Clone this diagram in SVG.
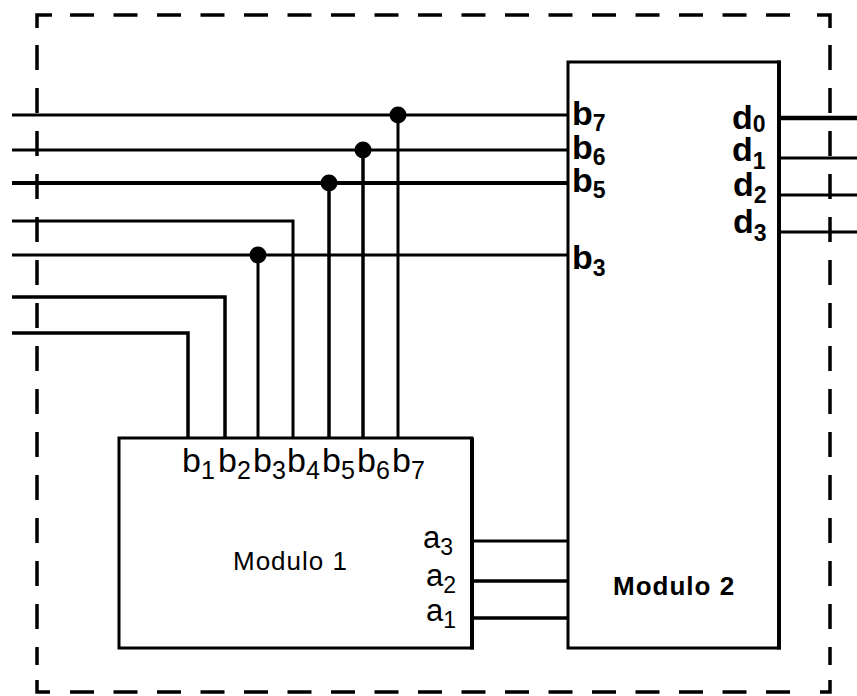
<svg xmlns="http://www.w3.org/2000/svg" width="857" height="696" viewBox="0 0 857 696">
<style>
.w{fill:none;stroke:#000;stroke-width:3;stroke-linecap:butt;stroke-linejoin:miter}
.box{fill:#fff;stroke:#000;stroke-width:3}
.dash{fill:none;stroke:#000;stroke-width:3.5}
.dot{fill:#000}
.r{font-family:"Liberation Sans",Arial,sans-serif;fill:#000}
.b{font-family:"Liberation Sans",Arial,sans-serif;font-weight:bold;fill:#000}
</style>
<rect width="857" height="696" fill="#fff"/>
<g id="border">
<path class="dash" d="M37,28 V15 H52"/>
<path class="dash" d="M817,15 H830 V28"/>
<path class="dash" d="M830,680 V692 H820"/>
<path class="dash" d="M50,692 H37 V680"/>
<line class="dash" x1="70" y1="15" x2="800" y2="15" stroke-dasharray="24 19.5"/>
<line class="dash" x1="70" y1="692" x2="805" y2="692" stroke-dasharray="24 19.5"/>
<line class="dash" x1="37" y1="45" x2="37" y2="665" stroke-dasharray="25 18"/>
<line class="dash" x1="830" y1="45" x2="830" y2="665" stroke-dasharray="25 18"/>
</g>
<g id="connectors">
<line class="w" x1="12" y1="115" x2="568" y2="115"/>
<line class="w" x1="12" y1="150" x2="568" y2="150"/>
<line class="w" x1="12" y1="183" x2="568" y2="183" style="stroke-width:4"/>
<polyline class="w" points="12,221 293,221 293,437"/>
<line class="w" x1="12" y1="255" x2="568" y2="255"/>
<polyline class="w" points="12,297 225,297 225,437" style="stroke-width:3.5"/>
<polyline class="w" points="12,333 188,333 188,437" style="stroke-width:3.5"/>
<line class="w" x1="258" y1="255" x2="258" y2="437"/>
<line class="w" x1="329" y1="183" x2="329" y2="437" style="stroke-width:3.5"/>
<line class="w" x1="363" y1="150" x2="363" y2="437" style="stroke-width:3.5"/>
<line class="w" x1="398" y1="115" x2="398" y2="437"/>
<circle class="dot" cx="398" cy="115" r="8.5"/>
<circle class="dot" cx="363" cy="150" r="8.5"/>
<circle class="dot" cx="329" cy="183" r="8.5"/>
<circle class="dot" cx="258" cy="255" r="8.5"/>
<line class="w" x1="472" y1="541" x2="568" y2="541"/>
<line class="w" x1="472" y1="581" x2="568" y2="581" style="stroke-width:3.5"/>
<line class="w" x1="472" y1="618" x2="568" y2="618" style="stroke-width:3.5"/>
<line class="w" x1="779" y1="118" x2="857" y2="118" style="stroke-width:4.5"/>
<line class="w" x1="779" y1="158" x2="857" y2="158"/>
<line class="w" x1="779" y1="195" x2="857" y2="195"/>
<line class="w" x1="779" y1="232" x2="857" y2="232"/>
</g>
<g id="modulo1">
<rect class="box" x="119" y="438" width="353" height="210"/>
<line class="w" x1="472" y1="438" x2="472" y2="649.5" style="stroke-width:4"/>
<text class="r" x="182" y="472" font-size="34">b<tspan dy="7" font-size="25">1</tspan></text>
<text class="r" x="218" y="472" font-size="34">b<tspan dy="7" font-size="25">2</tspan></text>
<text class="r" x="253" y="472" font-size="34">b<tspan dy="7" font-size="25">3</tspan></text>
<text class="r" x="287" y="472" font-size="34">b<tspan dy="7" font-size="25">4</tspan></text>
<text class="r" x="322" y="472" font-size="34">b<tspan dy="7" font-size="25">5</tspan></text>
<text class="r" x="357" y="472" font-size="34">b<tspan dy="7" font-size="25">6</tspan></text>
<text class="r" x="392" y="472" font-size="34">b<tspan dy="7" font-size="25">7</tspan></text>
<text class="r" x="233" y="570" font-size="26" letter-spacing="1">Modulo 1</text>
<text class="r" x="423" y="548" font-size="31">a<tspan dy="7" font-size="23">3</tspan></text>
<text class="r" x="426" y="586" font-size="31">a<tspan dy="7" font-size="23">2</tspan></text>
<text class="r" x="426" y="621" font-size="31">a<tspan dy="7" font-size="23">1</tspan></text>
</g>
<g id="modulo2">
<rect class="box" x="568" y="62" width="211" height="586"/>
<line class="w" x1="779" y1="60.5" x2="779" y2="649.5" style="stroke-width:4"/>
<text class="b" x="572" y="125" font-size="34">b<tspan dy="6" font-size="23">7</tspan></text>
<text class="b" x="572" y="159" font-size="34">b<tspan dy="6" font-size="23">6</tspan></text>
<text class="b" x="572" y="192" font-size="34">b<tspan dy="6" font-size="23">5</tspan></text>
<text class="b" x="572" y="269" font-size="34">b<tspan dy="7" font-size="23">3</tspan></text>
<text class="b" x="732" y="129" font-size="34">d<tspan dy="3" font-size="23">0</tspan></text>
<text class="b" x="732" y="161" font-size="34">d<tspan dy="8" font-size="23">1</tspan></text>
<text class="b" x="733" y="196" font-size="34">d<tspan dy="7" font-size="23">2</tspan></text>
<text class="b" x="733" y="233" font-size="34">d<tspan dy="8" font-size="23">3</tspan></text>
<text class="b" x="613" y="595" font-size="26" letter-spacing="1">Modulo 2</text>
</g>
</svg>
